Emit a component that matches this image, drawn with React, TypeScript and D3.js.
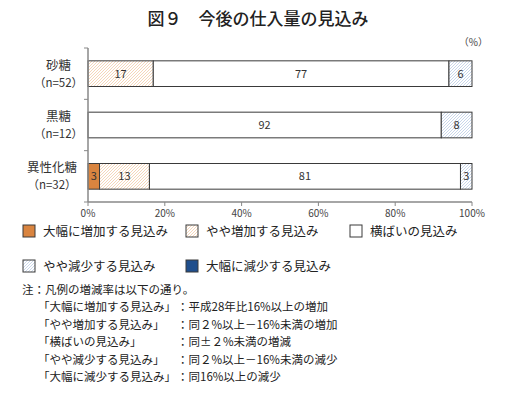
import React, { useEffect, useRef } from 'react';
import * as d3 from 'd3';

const categories = ['砂糖', '黒糖', '異性化糖'];
const sampleSizes = ['（n=52）', '（n=12）', '（n=32）'];
const seriesNames = ['大幅に増加する見込み', 'やや増加する見込み', '横ばいの見込み', 'やや減少する見込み', '大幅に減少する見込み'];
const bigUp = [0, 0, 3];
const smallUp = [17, 0, 13];
const flat = [77, 92, 81];
const smallDown = [6, 8, 3];
const bigDown = [0, 0, 0];
const xTicks = [0, 20, 40, 60, 80, 100];
const noteLines = [
  ['「大幅に増加する見込み」', '：平成28年比16%以上の増加'],
  ['「やや増加する見込み」', '：同２%以上－16%未満の増加'],
  ['「横ばいの見込み」', '：同±２%未満の増減'],
  ['「やや減少する見込み」', '：同２%以上－16%未満の減少'],
  ['「大幅に減少する見込み」', '：同16%以上の減少'],
];

const FONT = '"Noto Sans CJK JP", "Noto Sans", sans-serif';
const fills = ['#d9843f', 'url(#hatchUp)', '#ffffff', 'url(#hatchDown)', '#1f4e8c'];

const App: React.FC = () => {
  const svgRef = useRef<SVGSVGElement>(null);

  useEffect(() => {
    if (!svgRef.current) return;
    const svg = d3.select(svgRef.current);
    svg.selectAll('*').remove();

    const width = 516;
    const x = d3.scaleLinear().domain([0, 100]).range([88, 472]);
    const y = d3.scaleBand<string>().domain(categories).range([48, 202]).paddingInner(0.5).paddingOuter(0.25);

    // hatch patterns
    const defs = svg.append('defs');
    const pat = (id: string, color: string) => {
      const p = defs.append('pattern').attr('id', id).attr('patternUnits', 'userSpaceOnUse')
        .attr('width', 3).attr('height', 3);
      p.append('rect').attr('width', 3).attr('height', 3).attr('fill', '#fff');
      p.append('path').attr('d', 'M-1,1 L1,-1 M0,3 L3,0 M2,4 L4,2').attr('stroke', color).attr('stroke-width', 0.7);
    };
    pat('hatchUp', '#f0c49c');
    pat('hatchDown', '#b2c5e2');

    // title
    svg.append('text').attr('x', width / 2).attr('y', 25).attr('text-anchor', 'middle')
      .attr('font-family', FONT).attr('font-size', 17).attr('font-weight', 500).attr('fill', '#222')
      .text('図９　今後の仕入量の見込み');

    svg.append('text').attr('x', 488).attr('y', 46).attr('text-anchor', 'end')
      .attr('font-family', FONT).attr('font-size', 10).attr('fill', '#444').text('（%）');

    // stacked bars
    const series = [bigUp, smallUp, flat, smallDown, bigDown];
    categories.forEach((c, i) => {
      let acc = 0;
      series.forEach((s, k) => {
        const v = s[i];
        if (v <= 0) return;
        const x0 = x(acc);
        const x1 = x(acc + v);
        svg.append('rect').attr('x', x0).attr('y', y(c)!).attr('width', x1 - x0).attr('height', y.bandwidth())
          .attr('fill', fills[k]).attr('stroke', '#3a3a3a').attr('stroke-width', 1);
        svg.append('text').attr('x', (x0 + x1) / 2).attr('y', y(c)! + y.bandwidth() / 2 + 4)
          .attr('text-anchor', 'middle').attr('font-family', FONT).attr('font-size', 11)
          .attr('fill', k === 4 ? '#fff' : '#333').text(v);
        acc += v;
      });
    });

    // axes
    const axisColor = '#888';
    svg.append('line').attr('x1', 88).attr('x2', 88).attr('y1', 48).attr('y2', 202).attr('stroke', axisColor).attr('stroke-width', 1.5);
    svg.append('line').attr('x1', 88).attr('x2', 472).attr('y1', 202).attr('y2', 202).attr('stroke', axisColor).attr('stroke-width', 1.5);
    const step = y.step();
    d3.range(0, categories.length + 1).forEach(i => {
      const yy = 48 + i * step;
      svg.append('line').attr('x1', 84).attr('x2', 88).attr('y1', yy).attr('y2', yy).attr('stroke', axisColor);
    });
    xTicks.forEach(t => {
      svg.append('line').attr('x1', x(t)).attr('x2', x(t)).attr('y1', 202).attr('y2', 206).attr('stroke', axisColor);
      svg.append('text').attr('x', x(t)).attr('y', 217).attr('text-anchor', 'middle')
        .attr('font-family', FONT).attr('font-size', 10).attr('fill', '#444').text(`${t}%`);
    });

    // category labels
    categories.forEach((c, i) => {
      const cy = y(c)! + y.bandwidth() / 2;
      const nameW = c.length * 12.5;
      const blockW = Math.max(nameW, 37);
      const cx = 77 - blockW / 2;
      svg.append('text').attr('x', cx).attr('y', cy - 4).attr('text-anchor', 'middle')
        .attr('font-family', FONT).attr('font-size', 12.5).attr('fill', '#333').text(c);
      svg.append('text').attr('x', cx).attr('y', cy + 13).attr('text-anchor', 'middle')
        .attr('font-family', FONT).attr('font-size', 11.5).attr('fill', '#333').text(sampleSizes[i]);
    });

    // legend
    const legendPos = [[23, 231], [186, 231], [350, 231], [23, 266], [186, 266]];
    seriesNames.forEach((n, k) => {
      const [lx, ly] = legendPos[k];
      svg.append('rect').attr('x', lx).attr('y', ly - 6).attr('width', 12).attr('height', 12)
        .attr('fill', fills[k]).attr('stroke', '#3a3a3a');
      svg.append('text').attr('x', lx + 20).attr('y', ly + 5)
        .attr('font-family', FONT).attr('font-size', 12.5).attr('fill', '#222').text(n);
    });

    // notes
    svg.append('text').attr('x', 22).attr('y', 294).attr('font-family', FONT).attr('font-size', 11.5)
      .attr('fill', '#222').text('注：凡例の増減率は以下の通り。');
    noteLines.forEach(([a, b], i) => {
      const ny = 311 + i * 17.5;
      svg.append('text').attr('x', 38).attr('y', ny).attr('font-family', FONT).attr('font-size', 11.5)
        .attr('fill', '#222').text(a);
      svg.append('text').attr('x', 177).attr('y', ny).attr('font-family', FONT).attr('font-size', 11.5)
        .attr('fill', '#222').text(b);
    });
  }, []);

  return (
    <svg ref={svgRef} width={516} height={393}
      style={{ position: 'absolute', left: 0, top: 0, background: '#fff' }} />
  );
};

export default App;
